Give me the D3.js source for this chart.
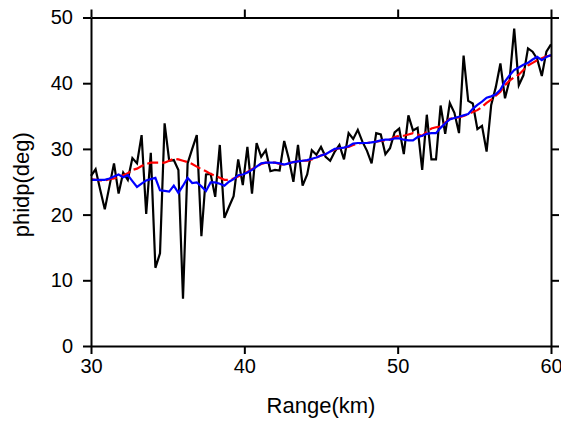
<html>
<head>
<meta charset="utf-8">
<script src="https://d3js.org/d3.v7.min.js"></script>
<style>
body {
	margin: 0;
	background: #fff;
}
.axis path, .axis line {
	stroke: #000;
	stroke-width: 2px;
}
.axis text {
	font: 20px "Liberation Sans", Arial, sans-serif;
	fill: #000;
}
.title {
	font: 22px "Liberation Sans", Arial, sans-serif;
	fill: #000;
}
</style>
</head>
<body>
<div id="chart"></div>
<script>

// range gates (km)
var rangeKm = [
 30.0, 30.3, 30.6, 30.9, 31.2, 31.5, 31.8, 32.1, 32.4, 32.7,
 33.0, 33.3, 33.6, 33.9, 34.2, 34.5, 34.8, 35.1, 35.4, 35.7,
 36.0, 36.3, 36.6, 36.9, 37.2, 37.5, 37.8, 38.1, 38.4, 38.7,
 39.0, 39.3, 39.6, 39.9, 40.2, 40.5, 40.8, 41.1, 41.4, 41.7,
 42.0, 42.3, 42.6, 42.9, 43.2, 43.5, 43.8, 44.1, 44.4, 44.7,
 45.0, 45.3, 45.6, 45.9, 46.2, 46.5, 46.8, 47.1, 47.4, 47.7,
 48.0, 48.3, 48.6, 48.9, 49.2, 49.5, 49.8, 50.1, 50.4, 50.7,
 51.0, 51.3, 51.6, 51.9, 52.2, 52.5, 52.8, 53.1, 53.4, 53.7,
 54.0, 54.3, 54.6, 54.9, 55.2, 55.5, 55.8, 56.1, 56.4, 56.7,
 57.0, 57.3, 57.6, 57.9, 58.2, 58.5, 58.8, 59.1, 59.4, 59.7,
 60.0
];

// raw phidp (black)
var phidpRaw = [
 25.9, 26.9, 23.8, 20.8, 24.3, 27.8, 23.2, 26.4, 25.3, 28.6,
 27.8, 32.1, 20.1, 29.4, 11.9, 14.1, 33.9, 28.2, 28.3, 26.8,
 7.2, 27.8, 30.0, 32.1, 16.7, 26.1, 26.2, 22.7, 30.6, 19.5,
 21.2, 22.8, 28.4, 24.5, 30.3, 23.2, 30.9, 28.8, 29.8, 26.6,
 26.8, 26.7, 31.2, 28.5, 25.0, 30.6, 24.4, 26.1, 29.8, 29.1,
 30.3, 28.8, 28.2, 29.6, 30.6, 28.4, 32.4, 31.5, 32.9, 31.1,
 29.7, 27.8, 32.4, 32.2, 29.2, 30.1, 32.5, 33.1, 29.2, 35.1,
 32.8, 33.2, 26.8, 35.2, 28.4, 28.4, 36.6, 32.3, 37.0, 35.5,
 32.4, 44.2, 37.3, 36.9, 33.0, 33.5, 29.6, 36.7, 39.4, 43.0,
 37.7, 40.5, 48.3, 39.7, 41.2, 45.3, 44.8, 43.7, 41.1, 44.8,
 45.9
];

// filtered phidp (red dashed)
var phidpRed = [
 25.4, 25.3, 25.2, 25.2, 25.4, 25.5, 25.7, 26.0, 26.3, 26.8,
 27.0, 27.4, 27.7, 27.9, 27.9, 27.9, 27.9, 28.2, 28.5, 28.4,
 28.2, 28.0, 27.7, 27.3, 26.9, 26.6, 26.2, 25.9, 25.6, 25.3,
 25.3, 25.5, 25.8, 26.2, 26.5, 26.9, 27.3, 27.7, 27.9, 27.9,
 27.9, 27.7, 27.6, 27.8, 28.0, 28.1, 28.2, 28.2, 28.4, 28.7,
 29.0, 29.2, 29.6, 29.9, 30.1, 30.2, 30.3, 30.6, 30.8, 30.9,
 30.9, 31.0, 31.1, 31.2, 31.3, 31.4, 31.8, 32.0, 32.0, 32.2,
 32.4, 32.2, 32.0, 32.6, 33.1, 33.3, 33.4, 34.0, 34.6, 34.7,
 34.8, 35.0, 35.3, 35.6, 35.9, 36.4, 37.0, 37.5, 38.1, 38.7,
 39.7, 40.4, 40.9, 41.3, 42.0, 42.7, 43.1, 43.5, 43.8, 44.1,
 44.2
];

// filtered phidp (blue)
var phidpBlue = [
 25.3, 25.3, 25.3, 25.3, 25.5, 25.8, 26.1, 25.7, 26.0, 25.1,
 24.2, 24.7, 25.2, 25.4, 25.6, 23.7, 23.6, 23.5, 24.4, 23.3,
 24.4, 25.6, 24.8, 24.9, 24.3, 23.6, 24.9, 24.9, 24.7, 24.4,
 25.0, 25.4, 26.0, 26.1, 26.4, 26.8, 27.3, 27.8, 27.9, 27.9,
 27.9, 27.8, 27.6, 27.8, 28.0, 28.1, 28.2, 28.3, 28.5, 28.7,
 29.0, 29.2, 29.6, 30.0, 30.1, 30.2, 30.4, 30.8, 30.9, 30.9,
 30.9, 31.0, 31.1, 31.3, 31.4, 31.4, 31.6, 31.6, 31.4, 31.3,
 31.3, 31.8, 32.0, 32.3, 32.4, 32.4, 33.2, 33.9, 34.5, 34.7,
 34.9, 35.1, 35.3, 36.1, 36.7, 37.2, 37.8, 38.0, 38.3, 39.0,
 40.3, 41.2, 42.0, 42.4, 42.8, 43.1, 43.6, 44.0, 43.5, 44.0,
 44.3
];

var xTicks = [30, 40, 50, 60];
var yTicks = [0, 10, 20, 30, 40, 50];

let margin = {top: 17.5, right: 10, bottom: 80, left: 91},
    width = 561 - margin.left - margin.right,
    height = 426 - margin.top - margin.bottom;

let svg = d3.select("#chart").append("svg")
    .attr("width", 561)
    .attr("height", 426);

let g = svg.append("g")
    .attr("transform", "translate(" + margin.left + "," + margin.top + ")");

let x = d3.scaleLinear().domain([30, 60]).range([0, width]),
    y = d3.scaleLinear().domain([0, 50]).range([height, 0]);

// lines first, axes drawn on top
let line = function(vals) {
	return d3.line()
		.x(function(d, i) { return x(rangeKm[i]); })
		.y(function(d) { return y(d); })(vals);
};

g.append("path")
	.attr("d", line(phidpRaw))
	.attr("fill", "none")
	.attr("stroke", "#000")
	.attr("stroke-width", 2.2);

g.append("path")
	.attr("d", line(phidpRed))
	.attr("fill", "none")
	.attr("stroke", "#ff0000")
	.attr("stroke-width", 2.2)
	.attr("stroke-dasharray", "11,4");

g.append("path")
	.attr("d", line(phidpBlue))
	.attr("fill", "none")
	.attr("stroke", "#0000ff")
	.attr("stroke-width", 2.2);

// axes, ticks outward on all four sides
g.append("g")
	.attr("class", "axis")
	.attr("transform", "translate(0," + height + ")")
	.call(d3.axisBottom(x).tickValues(xTicks).tickSize(8).tickPadding(5).tickSizeOuter(0));

g.append("g")
	.attr("class", "axis")
	.call(d3.axisTop(x).tickValues(xTicks).tickSize(8).tickFormat("").tickSizeOuter(0));

g.append("g")
	.attr("class", "axis")
	.call(d3.axisLeft(y).tickValues(yTicks).tickSize(8).tickPadding(10).tickSizeOuter(0));

g.append("g")
	.attr("class", "axis")
	.attr("transform", "translate(" + width + ",0)")
	.call(d3.axisRight(y).tickValues(yTicks).tickSize(8).tickFormat("").tickSizeOuter(0));

// axis titles
g.append("text")
	.attr("class", "title")
	.attr("text-anchor", "middle")
	.attr("x", width / 2)
	.attr("y", height + 67)
	.text("Range(km)");

g.append("text")
	.attr("class", "title")
	.attr("text-anchor", "middle")
	.attr("transform", "rotate(-90)")
	.attr("x", -height / 2 - 3)
	.attr("y", -62)
	.text("phidp(deg)");

</script>
</body>
</html>
